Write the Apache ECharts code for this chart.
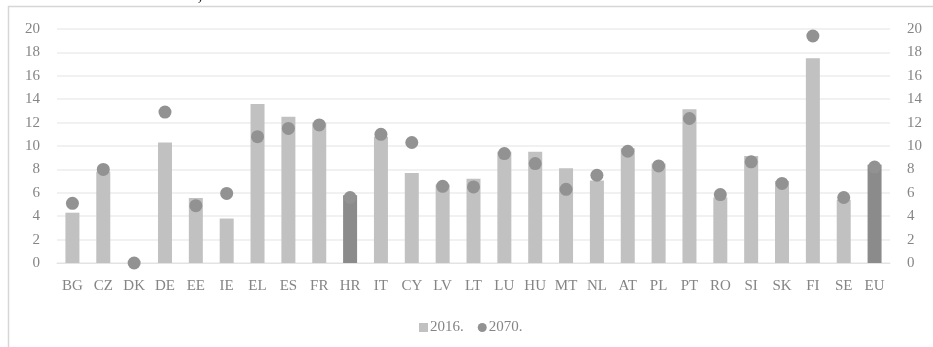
<!DOCTYPE html>
<html>
<head>
<meta charset="utf-8">
<style>
  html, body { margin: 0; padding: 0; background: #ffffff; }
  #chart { width: 933px; height: 347px; }
</style>
<script src="https://cdn.jsdelivr.net/npm/echarts@6/dist/echarts.min.js"></script>
</head>
<body>
<div id="chart"></div>
<script>
// Member states (plus EU average) along the category axis
const countries = ['BG','CZ','DK','DE','EE','IE','EL','ES','FR','HR','IT','CY','LV','LT','LU','HU','MT','NL','AT','PL','PT','RO','SI','SK','FI','SE','EU'];
// Pension expenditure, % of GDP
const values2016 = [4.3, 7.8, 0, 10.3, 5.55, 3.8, 13.6, 12.5, 12.0, 5.8, 10.8, 7.7, 6.7, 7.2, 9.5, 9.5, 8.1, 7.05, 9.8, 8.5, 13.15, 5.6, 9.15, 7.0, 17.5, 5.4, 8.4];
const values2070 = [5.1, 8.0, 0, 12.9, 4.9, 5.95, 10.8, 11.5, 11.8, 5.6, 11.0, 10.3, 6.55, 6.5, 9.35, 8.5, 6.3, 7.5, 9.55, 8.3, 12.35, 5.85, 8.65, 6.8, 19.4, 5.6, 8.2];
// Categories drawn with the darker bar
const highlighted = ['HR', 'EU'];
const seriesNames = ['2016.', '2070.'];
const headingText = '2070., u % BDP-a';

const BAR = '#c1c1c1';
const BAR_DARK = '#8b8b8b';
const DOT = '#929292';
const LABEL = '#858585';
const SERIF = '"Liberation Serif", "DejaVu Serif", serif';

const chart = echarts.init(document.getElementById('chart'), null, { renderer: 'canvas' });

const barData = values2016.map((v, i) => highlighted.includes(countries[i])
  ? { value: v, itemStyle: { color: BAR_DARK } }
  : v);

const yAxisBase = {
  type: 'value', min: 0, max: 20, interval: 2,
  axisLine: { show: false }, axisTick: { show: false },
  axisLabel: { color: LABEL, fontFamily: SERIF, fontSize: 15, margin: 17 }
};

chart.setOption({
  animation: false,
  backgroundColor: '#ffffff',
  graphic: [
    { type: 'rect', shape: { x: 8.5, y: 6.5, width: 1000, height: 400 },
      style: { fill: 'none', stroke: '#d6d6d6', lineWidth: 1.5 }, silent: true, z: -1 },
    { type: 'text', left: 155, top: -14,
      style: { text: headingText, fill: '#222', font: '19px ' + SERIF }, silent: true }
  ],
  grid: { left: 57, right: 43, top: 29, bottom: 84, containLabel: false },
  legend: {
    data: [
      { name: seriesNames[0], icon: 'rect' },
      { name: seriesNames[1], icon: 'circle' }
    ],
    top: 315, left: 414,
    itemWidth: 9, itemHeight: 9, itemGap: 14,
    textStyle: { color: LABEL, fontFamily: SERIF, fontSize: 15, padding: [0, 0, 0, -3] }
  },
  xAxis: {
    type: 'category', data: countries,
    axisLine: { show: true, lineStyle: { color: '#e3e3e3' } },
    axisTick: { show: false },
    axisLabel: { interval: 0, color: LABEL, fontFamily: SERIF, fontSize: 15, margin: 16 }
  },
  yAxis: [
    Object.assign({}, yAxisBase, {
      position: 'left',
      splitLine: { show: true, lineStyle: { color: '#ececec', width: 1.5 } }
    }),
    Object.assign({}, yAxisBase, {
      position: 'right',
      splitLine: { show: false }
    })
  ],
  series: [
    {
      name: seriesNames[0], type: 'bar', data: barData,
      barWidth: 14, itemStyle: { color: BAR }, yAxisIndex: 0
    },
    {
      name: seriesNames[1], type: 'scatter', data: values2070,
      symbol: 'circle', symbolSize: 13, itemStyle: { color: DOT, opacity: 1 }, yAxisIndex: 0, z: 3
    }
  ]
});
</script>
</body>
</html>
